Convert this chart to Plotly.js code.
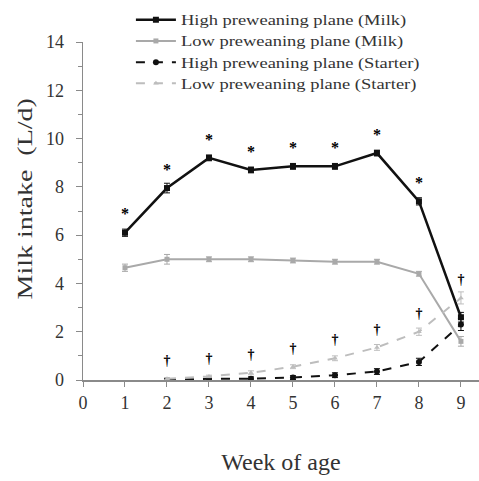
<!DOCTYPE html>
<html>
<head>
<meta charset="utf-8">
<script src="https://cdn.plot.ly/plotly-3.0.1.min.js"></script>
<style>
  html, body { margin: 0; padding: 0; background: #fff; }
  #chart { width: 479px; height: 481px; }
</style>
</head>
<body>
<div id="chart"></div>
<script>
// Weekly intake (L/d) by preweaning plane
const weeksMilk = [1, 2, 3, 4, 5, 6, 7, 8, 9];
const highMilk = [6.1, 7.95, 9.2, 8.7, 8.85, 8.85, 9.4, 7.4, 2.6];
const highMilkSe = [0.15, 0.2, 0.12, 0.12, 0.12, 0.12, 0.12, 0.15, 0.2];
const lowMilk = [4.65, 5.0, 5.0, 5.0, 4.95, 4.9, 4.9, 4.4, 1.6];
const lowMilkSe = [0.15, 0.2, 0.1, 0.1, 0.1, 0.1, 0.1, 0.1, 0.2];

const weeksStarter = [2, 3, 4, 5, 6, 7, 8, 9];
const highStarter = [0.0, 0.05, 0.05, 0.1, 0.2, 0.35, 0.75, 2.3];
const lowStarter = [0.05, 0.15, 0.3, 0.55, 0.9, 1.35, 2.0, 3.4];
const starterSe = [0.05, 0.05, 0.08, 0.08, 0.1, 0.12, 0.15, 0.25];

// Significance marks: * milk difference (weeks 1-8), † starter difference (weeks 2-9)
const milkSigWeeks = [1, 2, 3, 4, 5, 6, 7, 8];
const starterSigWeeks = [2, 3, 4, 5, 6, 7, 8, 9];

const legendNames = [
  'High preweaning plane (Milk)',
  'Low preweaning plane (Milk)',
  'High preweaning plane (Starter)',
  'Low preweaning plane (Starter)'
];
const yTitle = 'Milk intake  (L/d)';
const xTitle = 'Week of age';

const serif = 'Liberation Serif, Times New Roman, serif';
const dark = '#111111';
const grey = '#a9a9a9';
const lightGrey = '#bdbdbd';
const textColor = '#333333';

const markOffset = 0.72;
const sigY = (weeks, xs, ...series) => weeks.map(w => {
  const i = xs.indexOf(w);
  return Math.max(...series.map(s => s[i] !== undefined ? s[i] : -Infinity)) + markOffset;
});

const traces = [
  {
    x: weeksMilk, y: highMilk, name: legendNames[0], mode: 'lines+markers',
    line: { color: dark, width: 2.5 },
    marker: { symbol: 'square', size: 6, color: dark },
    error_y: { type: 'data', array: highMilkSe, color: dark, thickness: 1, width: 3 }
  },
  {
    x: weeksMilk, y: lowMilk, name: legendNames[1], mode: 'lines+markers',
    line: { color: grey, width: 2 },
    marker: { symbol: 'square', size: 5, color: grey },
    error_y: { type: 'data', array: lowMilkSe, color: grey, thickness: 1, width: 3 }
  },
  {
    x: weeksStarter, y: highStarter, name: legendNames[2], mode: 'lines+markers',
    line: { color: dark, width: 2, dash: 'dash' },
    marker: { symbol: 'circle', size: 6, color: dark },
    error_y: { type: 'data', array: starterSe, color: dark, thickness: 1, width: 3 }
  },
  {
    x: weeksStarter, y: lowStarter, name: legendNames[3], mode: 'lines+markers',
    line: { color: lightGrey, width: 2, dash: 'dash' },
    marker: { symbol: 'triangle-up', size: 5, color: lightGrey },
    error_y: { type: 'data', array: starterSe, color: lightGrey, thickness: 1, width: 3 }
  },
  {
    x: milkSigWeeks, y: sigY(milkSigWeeks, weeksMilk, highMilk), mode: 'text',
    text: milkSigWeeks.map(() => '*'), textposition: 'middle center',
    textfont: { family: serif, size: 16, color: '#000000', weight: 'bold' },
    marker: { color: '#000000' },
    showlegend: false, hoverinfo: 'skip'
  },
  {
    x: starterSigWeeks, y: sigY(starterSigWeeks, weeksStarter, highStarter, lowStarter), mode: 'text',
    text: starterSigWeeks.map(() => '†'), textposition: 'middle center',
    textfont: { family: serif, size: 14, color: '#000000', weight: 'bold' },
    marker: { color: '#000000' },
    showlegend: false, hoverinfo: 'skip'
  }
];

const layout = {
  width: 479, height: 481,
  margin: { l: 83, r: 0, t: 42, b: 101 },
  paper_bgcolor: '#fff', plot_bgcolor: '#fff',
  colorway: [dark, grey, dark, lightGrey, '#000000', '#000000'],
  font: { family: serif, color: textColor },
  showlegend: true,
  legend: {
    x: 0.121, y: 1.112, xanchor: 'left', yanchor: 'top',
    bgcolor: 'rgba(0,0,0,0)', borderwidth: 0,
    font: { family: serif, size: 14, color: textColor },
    tracegroupgap: 0, itemwidth: 40
  },
  xaxis: {
    range: [0, 9.43], tickmode: 'linear', tick0: 0, dtick: 1,
    showgrid: false, zeroline: false,
    showline: true, linecolor: '#8a8a8a', linewidth: 2,
    ticks: 'outside', ticklen: 5, tickcolor: '#8a8a8a', tickwidth: 1,
    tickfont: { family: serif, size: 18, color: textColor },
    title: { text: xTitle, font: { family: serif, size: 24, color: textColor }, standoff: 42 }
  },
  yaxis: {
    range: [0, 14], tickmode: 'linear', tick0: 0, dtick: 2,
    showgrid: false, zeroline: false,
    showline: true, linecolor: '#8a8a8a', linewidth: 1.5,
    ticks: 'outside', ticklen: 6, tickcolor: '#8a8a8a', tickwidth: 1,
    ticklabelstandoff: 8,
    minor: { dtick: 1, ticks: 'outside', ticklen: 4, tickcolor: '#8a8a8a' },
    tickfont: { family: serif, size: 18, color: textColor }
  },
  annotations: [{
    text: yTitle, textangle: -90, showarrow: false,
    xref: 'paper', yref: 'paper', x: -0.145, y: 0.535,
    xanchor: 'center', yanchor: 'middle',
    font: { family: serif, size: 20, color: textColor }
  }]
};

// The serif captions are set wide: widen each run of text along its baseline.
function widen(selector, factor) {
  document.querySelectorAll(selector).forEach(t => {
    const len = t.getComputedTextLength();
    t.setAttribute('textLength', (len * factor).toFixed(1));
    t.setAttribute('lengthAdjust', 'spacingAndGlyphs');
  });
}

Plotly.newPlot('chart', traces, layout, { displayModeBar: false, staticPlot: true })
  .then(() => {
    widen('#chart .legendtext', 1.32);
    widen('#chart .annotation-text', 1.4);
    // let the widened legend entries run past the legend's measured box
    document.querySelectorAll('#chart .legend .scrollbox, #chart .legend').forEach(el => {
      el.removeAttribute('clip-path');
    });
  });
</script>
</body>
</html>
